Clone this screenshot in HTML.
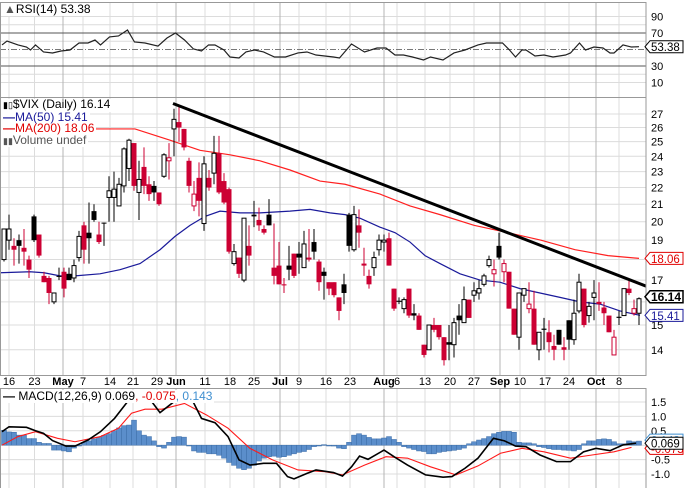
<!DOCTYPE html>
<html><head><meta charset="utf-8"><style>
html,body{margin:0;padding:0;background:#fff;}
svg{display:block;font-family:"Liberation Sans",sans-serif;}
.lg div{display:table;background:#fff;padding:0 2px;}
</style></head><body>
<svg id="chart" width="687" height="488" viewBox="0 0 687 488" xmlns="http://www.w3.org/2000/svg">
<rect x="0" y="0" width="687" height="488" fill="#fff"/>
<g id="grid"></g>
<g id="rsi-g"></g>
<g id="main-g"></g>
<g id="macd-g"></g>
<g id="labels"></g>
</svg>
<script>
// ---------------- data ----------------
const opens  = [18.0,19.0,18.7,19.0,18.6,18.0,20.3,19.3,17.2,17.1,16.0,17.2,17.4,17.3,17.1,18.1,19.8,19.4,20.6,19.3,19.95,21.4,21.4,20.9,22.1,23.2,24.9,21.7,23.3,22.2,22.1,21.7,22.7,23.7,25.9,26.4,25.9,23.7,20.9,22.6,19.9,22.6,22.9,24.2,22.4,21.9,17.8,18.1,17.0,18.7,20.4,20.1,19.6,20.4,17.6,17.7,16.8,17.7,18.3,18.3,17.6,18.1,18.9,17.9,17.4,16.9,16.9,16.2,16.8,20.4,18.5,19.8,17.8,17.2,17.6,18.5,18.9,19.1,16.6,16.05,15.7,16.6,15.5,15.4,14.2,14.0,15.0,15.0,14.5,14.3,14.2,15.4,15.1,16.1,16.3,16.4,16.8,17.7,17.3,18.7,17.4,17.4,15.7,14.5,16.3,15.7,15.7,14.0,14.85,14.7,14.15,14.8,14.1,15.2,14.4,15.6,16.6,15.4,16.2,16.0,15.75,15.4,13.8,15.35,15.4,16.6,15.5,15.5];
const highs  = [19.6,20.4,19.1,19.3,19.6,18.2,20.4,19.3,17.4,17.2,16.4,17.6,17.6,17.6,18.0,19.5,20.0,21.1,21.0,20.0,19.95,22.7,23.0,22.6,24.6,25.2,24.9,23.7,24.6,22.7,22.4,21.7,24.2,24.9,27.4,27.6,25.9,23.9,22.4,23.6,24.0,23.1,25.4,25.4,22.9,22.0,18.8,18.1,20.2,19.8,21.2,20.8,19.8,21.3,19.9,18.9,17.1,18.7,18.3,18.9,19.5,19.6,19.6,18.0,17.6,16.9,16.9,16.2,17.3,20.5,20.9,20.7,18.6,17.5,18.4,19.3,19.3,19.4,16.6,16.2,16.2,16.6,15.9,15.5,14.2,15.0,15.3,15.0,14.5,15.0,15.3,15.9,16.7,16.1,16.9,17.0,17.3,18.2,18.0,19.4,18.0,17.4,15.7,16.4,16.6,16.9,16.5,14.7,15.3,15.2,14.6,14.8,14.5,15.2,16.1,17.3,16.6,16.0,17.0,16.9,16.0,15.4,14.8,15.6,16.6,17.0,16.1,16.2];
const lows   = [17.9,18.5,17.7,17.8,17.7,17.1,18.9,18.1,16.9,15.9,15.9,17.0,16.2,17.0,16.9,17.9,17.8,17.8,20.0,18.8,18.7,20.0,20.0,20.9,21.7,22.4,21.8,20.1,21.6,21.2,21.2,20.9,22.6,22.5,24.0,25.0,24.4,21.7,20.6,20.3,19.5,21.8,22.2,21.6,21.0,18.3,17.7,17.1,16.9,17.7,19.7,19.5,19.3,19.8,16.8,16.8,16.4,17.0,17.1,17.3,17.6,17.9,18.0,16.5,16.1,16.3,16.2,15.2,15.9,18.4,18.4,18.6,17.2,16.6,17.2,18.2,18.4,17.7,15.6,15.9,15.5,15.3,15.2,14.8,13.7,14.0,14.7,14.4,13.4,13.6,13.7,14.6,15.1,15.3,16.0,16.1,16.7,17.6,16.7,18.0,16.9,15.7,14.6,14.0,16.0,15.5,14.2,13.6,14.0,13.9,13.6,14.2,13.6,14.0,14.2,15.5,14.9,15.1,15.2,15.6,15.0,14.7,13.8,15.0,15.4,16.3,15.4,15.0];
const closes = [19.6,19.6,18.5,18.7,18.4,17.5,19.0,18.2,16.9,16.4,16.4,17.15,16.6,17.0,17.7,19.2,18.5,19.1,20.1,18.9,19.9,21.8,21.9,22.2,24.5,25.1,22.1,22.5,22.1,21.6,21.7,21.0,24.1,23.9,26.6,26.0,24.6,22.1,21.6,21.2,23.5,22.0,24.2,21.7,21.1,18.4,18.4,17.3,20.2,18.2,20.3,19.8,19.4,19.8,17.2,16.8,16.75,17.5,17.2,18.1,18.8,18.0,18.4,16.9,17.2,16.6,16.3,15.6,16.4,18.7,20.4,19.4,17.7,16.8,18.1,19.0,19.0,17.7,15.7,16.0,16.1,15.4,15.4,14.8,13.8,15.0,14.8,14.5,13.6,14.2,15.1,15.2,16.1,15.3,16.5,16.6,17.2,18.0,17.5,18.1,17.8,15.7,14.6,16.4,16.6,15.9,14.2,14.7,14.8,14.3,14.0,14.2,14.0,14.4,15.5,16.9,15.0,15.8,16.4,15.9,15.5,14.7,14.5,15.3,16.6,16.4,15.7,16.14];

const ma50Pos  = [-0.8,5.2,8,11.2,14.2,19.2,23.2,27.2,31.2,34.2,37.2,40.2,43.2,47.2,51.2,57.2,61.2,65.2,68.2,71.2,75.2,78.2,81.2,84.2,87.2,91.2,95.2,99.2,103.2,107.2,111.2,115.2,119.2,123.2,127.2];
const ma50Vals = [17.35,17.4,17.35,17.2,17.2,17.3,17.5,17.8,18.5,19.2,19.8,20.3,20.6,20.5,20.5,20.6,20.7,20.5,20.4,20.2,19.7,19.4,18.9,18.2,17.8,17.3,17.0,16.9,16.6,16.4,16.2,16.0,15.9,15.6,15.41];
const ma200Pos  = [-0.8,15.2,26.2,33.2,39.2,45.2,51.2,57.2,63.2,68.2,75.2,81.2,87.2,94,100.8,107.4,114.2,120.8,127];
const ma200Vals = [25.9,25.9,25.9,25.1,24.4,24.1,23.7,23.1,22.4,22.2,21.6,20.9,20.4,19.8,19.4,19.0,18.5,18.2,18.06];
const trendPos  = [33.8,128.6];
const trendVals = [27.8,16.7];
const priceTicks = [27,26,25,24,23,22,21,20,19,17,15,14];
const priceGrid  = [27,26,25,24,23,22,21,20,19,18,17,16,15,14];

const rsiPos  = [-0.4,0.6,2.8,4.5,5.3,6.3,7.9,9.7,11.4,13.2,15.0,16.8,18.2,19.3,21.1,22.9,24.7,26.1,28.2,30.8,32.6,34.3,36.1,37.9,39.5,40.9,42.2,44.0,45.2,47.0,48.4,50.1,51.9,54.1,56.3,58.8,60.6,62.4,65.9,67.1,69.5,72.1,74.6,76.4,78.2,79.9,81.7,83.9,85.3,87.8,90.0,92.2,94.8,96.5,97.9,99.7,101.1,102.3,103.6,104.4,106.2,108.0,109.8,112.3,113.3,115.1,116.3,118.0,119.8,121.2,122.0,123.8,125.5,127];
const rsiVals = [55.5,60.3,55.5,53,49.4,55.5,47,45.8,48.2,49.4,57.9,57.9,61.5,55.5,65.2,66.4,73.6,59.1,57.9,54.2,63.9,70,61.5,50.6,48.2,55.5,55.5,49.4,40.9,39.7,47,49.4,47,40.9,40.9,45.8,47,43.3,40.9,39.7,56.7,47,51.8,51.8,43.3,43.3,40.9,37.3,40.9,37.3,45.8,49.4,55.5,57.9,57.9,57.9,49.4,40.9,49.4,49.4,42.1,43.3,40.9,43.3,45.8,57.9,49.4,53,51.8,45.8,45.8,55.5,53,53.38];
const rsiTicks = [90,70,30,10];

const macdPos  = [-0.4,1,4.5,6.3,7.9,9.7,12.4,14.2,16.8,19.3,22.1,24.7,25.5,29.0,31.2,34.0,35.5,37.9,39.5,42.2,44.8,47.0,49.2,51.9,54.5,56.7,58.0,60.6,62.4,65.9,67.7,69.5,71.1,72.8,76.0,78.2,80.7,84.3,87.8,89.6,92.2,94.8,97.9,100.1,102.3,104.4,107.2,110.5,113.3,115.9,118.4,121.2,123.8,126.4];
const macdVals = [0.47,0.64,0.62,0.5,0.41,0.16,-0.03,-0.03,0.18,0.47,0.93,1.51,1.75,1.64,1.13,1.51,1.68,1.48,0.93,0.78,0.30,-0.51,-0.69,-0.63,-0.63,-1.09,-1.17,-0.98,-0.86,-0.95,-1.07,-0.75,-0.38,-0.49,-0.17,-0.42,-0.69,-1.03,-1.11,-1.09,-0.80,-0.45,0.24,0.15,-0.03,-0.05,-0.34,-0.57,-0.57,-0.23,-0.11,-0.19,0.01,0.069];
const sigPos  = [-0.4,2.8,6.3,10.7,14.2,19.3,22.9,25.5,28.2,31.6,36.1,40.5,44.8,49.2,53.7,58.8,64.2,67.7,72.1,76.4,80.7,85.3,90.4,94.8,99.3,103.6,108.0,113.3,117.6,122.0,125.5];
const sigVals = [0.0,0.3,0.47,0.24,0.12,0.30,0.59,1.11,1.25,1.25,1.45,1.05,0.59,-0.11,-0.51,-0.86,-0.92,-1.03,-0.69,-0.40,-0.45,-0.75,-1.03,-0.72,-0.28,-0.11,-0.23,-0.45,-0.34,-0.23,-0.075];
const histVals = [0.52,0.46,0.45,0.35,0.35,0.23,0.23,0.1,0.06,0.06,-0.17,-0.17,-0.2,-0.23,-0.1,0.0,0.1,0.15,0.22,0.27,0.34,0.4,0.5,0.6,0.68,0.7,0.87,0.5,0.35,0.3,0.15,-0.05,-0.1,0.1,0.28,0.3,0.28,0.0,-0.2,-0.25,-0.25,-0.3,-0.3,-0.35,-0.45,-0.6,-0.7,-0.8,-0.85,-0.8,-0.7,-0.55,-0.45,-0.4,-0.38,-0.42,-0.4,-0.35,-0.3,-0.25,-0.22,-0.15,-0.05,-0.02,0.02,0.0,-0.03,-0.1,-0.12,0.1,0.35,0.4,0.35,0.27,0.22,0.22,0.25,0.3,0.2,0.1,-0.05,-0.1,-0.15,-0.2,-0.22,-0.3,-0.3,-0.25,-0.22,-0.2,-0.18,-0.15,-0.1,0.05,0.12,0.18,0.23,0.3,0.4,0.45,0.48,0.48,0.45,0.1,0.08,0.08,0.05,-0.05,-0.08,-0.12,-0.15,-0.15,-0.17,-0.18,-0.2,-0.15,0.05,0.15,0.15,0.2,0.22,0.2,0.12,0.05,0.05,0.15,0.12,0.143];
const macdTicks = [1.5,1.0,0.5,-0.5,-1.0];
const macdGrid  = [1.5,1.0,0.5,0,-0.5,-1.0];

const dateLabels = ["16","23","May","7","14","21","29","Jun","11","18","25","Jul","9","16","23","Aug","6","13","20","27","Sep","10","17","24","Oct","8"];
const datePos    = [1,6.1,11.8,15.8,21.2,25.8,30.6,34.4,40.2,45.2,50,55.2,59,64.4,69.2,76,78.6,84.2,89.2,94,99.2,103.2,108.2,113.0,118.4,123];
const monthFlags = [0,0,1,0,0,0,0,1,0,0,0,1,0,0,0,1,0,0,0,0,1,0,0,0,1,0];

// ---------------- axes ----------------
const PR = 646;
function X(i){ return 4 + 5*i; }
function YP(p){ return 114 + 359*Math.log(27/p); }
function YR(v){ return 49.5 - (v-50)*0.825; }
function YM(v){ return 445.2 - v*28.8; }
const NS = "http://www.w3.org/2000/svg";
function el(tag, attrs, parent){ const e=document.createElementNS(NS,tag); for(const k in attrs) e.setAttribute(k,attrs[k]); parent.appendChild(e); return e; }
const svg = document.getElementById('chart');
const grid = document.getElementById('grid');
const rsiG = document.getElementById('rsi-g');
const mainG = document.getElementById('main-g');
const macdG = document.getElementById('macd-g');
const labG = document.getElementById('labels');

const defs = el('defs',{},svg);
function clip(id,y,h){ const c=el('clipPath',{id:id},defs); el('rect',{x:0,y:y,width:PR,height:h},c); }
clip('cr',2,95); clip('cm',97,278); clip('cd',388,100);
rsiG.setAttribute('clip-path','url(#cr)');
mainG.setAttribute('clip-path','url(#cm)');
macdG.setAttribute('clip-path','url(#cd)');

for(let v=10; v<=90; v+=10){
  if(v===70||v===30||v===50) continue;
  const l = el('line',{x1:0,x2:PR,y1:YR(v),y2:YR(v),stroke:'#dcdcdc','stroke-width':1},grid);
  
  
}
priceGrid.forEach(p=>{
  const l = el('line',{x1:0,x2:PR,y1:YP(p),y2:YP(p),stroke:'#dcdcdc','stroke-width':1},grid);
  
  
});
macdGrid.forEach(v=>{
  const l = el('line',{x1:0,x2:PR,y1:YM(v),y2:YM(v),stroke:'#dcdcdc','stroke-width':1},grid);
  
  
});
datePos.forEach((d,k)=>{
  const x = X(d);
  [[2,97],[97,375],[388,488]].forEach(r=>{
    const l = el('line',{x1:x,x2:x,y1:r[0],y2:r[1],stroke:monthFlags[k]?'#b4b4b4':'#dcdcdc','stroke-width':1},grid);
    
    
  });
  const t = el('text',{x:x,y:385,'font-size':11,'text-anchor':'middle','font-weight':monthFlags[k]?'bold':'normal',fill:'#000'},labG);
  t.textContent = dateLabels[k];
  
  
});

[70,30].forEach(v=>{
  const l=el('line',{x1:0,x2:PR,y1:YR(v),y2:YR(v),stroke:'#555','stroke-width':1},rsiG);
  
  
});
const mid = el('line',{x1:0,x2:PR,y1:YR(50),y2:YR(50),stroke:'#777','stroke-width':1,'stroke-dasharray':'6,2,1,2'},rsiG);


const rsiLine = el('polyline',{points:rsiPos.map((p,i)=>X(p)+','+YR(rsiVals[i])).join(' '),fill:'none',stroke:'#222','stroke-width':1.2},rsiG);



const m200 = el('polyline',{points:ma200Pos.map((p,i)=>X(p)+','+YP(ma200Vals[i])).join(' '),fill:'none',stroke:'#ff2020','stroke-width':1.2},mainG);


const m50 = el('polyline',{points:ma50Pos.map((p,i)=>X(p)+','+YP(ma50Vals[i])).join(' '),fill:'none',stroke:'#1a1a9a','stroke-width':1.2},mainG);



const RED = '#cc0033';
for(let i=0;i<closes.length;i++){
  const o=opens[i], c=closes[i], h=highs[i], lo=lows[i];
  const prev = i>0 ? closes[i-1] : o;
  const col = c < prev ? RED : '#000';
  const x = X(i);
  const g = el('g',{},mainG);
  
  
  el('line',{x1:x,x2:x,y1:YP(h),y2:YP(lo),stroke:col,'stroke-width':1},g);
  const top = YP(Math.max(o,c)), bot = YP(Math.min(o,c));
  const hh = Math.max(1, bot-top);
  if(c > o){
    el('rect',{x:x-2,y:top,width:4,height:hh,fill:'#fff',stroke:col,'stroke-width':1},g);
  } else {
    el('rect',{x:x-2.5,y:top,width:5,height:hh,fill:col},g);
  }
}
const tl = el('line',{x1:X(trendPos[0]),y1:YP(trendVals[0]),x2:X(trendPos[1]),y2:YP(trendVals[1]),stroke:'#000','stroke-width':3},mainG);



histVals.forEach((v,i)=>{
  const y0=YM(0), y1=YM(v);
  const r = el('rect',{x:X(i)-2.5,y:Math.min(y0,y1),width:5,height:Math.max(0.8,Math.abs(y1-y0)),fill:'#5b8ecb',stroke:'#3f6fa8','stroke-width':0.5},macdG);
  
  
});
const sg = el('polyline',{points:sigPos.map((p,i)=>X(p)+','+YM(sigVals[i])).join(' '),fill:'none',stroke:'#ff1a1a','stroke-width':1.1},macdG);


const ml = el('polyline',{points:macdPos.map((p,i)=>X(p)+','+YM(macdVals[i])).join(' '),fill:'none',stroke:'#000','stroke-width':1.6},macdG);



[[0,2,97],[0,97,375],[0,388,488]].forEach(r=>{
  const b = el('rect',{x:0.5,y:r[1]+0.5,width:PR-0.5,height:r[2]-r[1],fill:'none',stroke:'#999','stroke-width':1},labG);
  
  
});

rsiTicks.forEach(v=>{
  const t=el('text',{x:651,y:YR(v)+4,'font-size':11,fill:'#000'},labG);
  t.textContent=v;
  
  
});
priceTicks.forEach(v=>{
  const t=el('text',{x:651,y:YP(v)+4,'font-size':11,fill:'#000'},labG);
  t.textContent=v;
  
  
});
macdTicks.forEach(v=>{
  const t=el('text',{x:651,y:YM(v)+4,'font-size':11,fill:'#000'},labG);
  t.textContent=v.toFixed(1);
  
  
});

function vbox(y,txt,col,bold,name){
  const g=el('g',{},labG);
  
  
  el('path',{d:`M645,${y} L650,${y-6} L683,${y-6} L683,${y+6} L650,${y+6} Z`,fill:'#fff',stroke:col,'stroke-width':bold?1.5:1},g);
  const t=el('text',{x:651,y:y+4.5,'font-size':bold?12:11.5,'font-weight':bold?'bold':'normal',fill:col},g);
  t.textContent=txt;
}
vbox(YR(rsiVals[rsiVals.length-1]),'53.38','#000',false,'rsi-value-box');
vbox(YP(ma200Vals[ma200Vals.length-1]),'18.06','#e00000',false,'ma200-value-box');
vbox(YP(ma50Vals[ma50Vals.length-1]),'15.41','#1a1a9a',false,'ma50-value-box');
vbox(YP(closes[closes.length-1])-2,'16.14','#000',true,'price-value-box');
vbox(YM(histVals[histVals.length-1])-1,'0.143','#3f8fd0',false,'hist-value-box');
vbox(YM(sigVals[sigVals.length-1])+1,'-0.075','#e00000',false,'signal-value-box');
vbox(YM(macdVals[macdVals.length-1]),'0.069','#000',false,'macd-value-box');
</script>
<div style="position:absolute;left:0;top:0;width:687px;height:488px;pointer-events:none;font-family:'Liberation Sans',sans-serif;">
  <div style="position:absolute;left:2px;top:3px;font-size:12px;background:#fff;padding:0 2px;line-height:13px;"><span style="color:#555">&#9650;</span>RSI(14) 53.38</div>
  <div class="lg" style="position:absolute;left:1px;top:99px;font-size:12px;line-height:11.5px;">
    <div><span style="font-size:9px">&#9646;&#9647;</span>$VIX (Daily) 16.14</div>
    <div style="color:#1a1a9a"><b>&#8212;</b>MA(50) 15.41</div>
    <div style="color:#e00000"><b>&#8212;</b>MA(200) 18.06</div>
    <div style="color:#555"><span style="font-size:9px">&#9646;&#9646;</span>Volume undef</div>
  </div>
  <div style="position:absolute;left:1px;top:390px;font-size:12px;line-height:13px;background:#fff;padding:0 2px;"><b>&#8212;</b> MACD(12,26,9) 0.069<span style="color:#e00000">, -0.075</span><span style="color:#3f8fd0">, 0.143</span></div>
</div>
</body></html>
